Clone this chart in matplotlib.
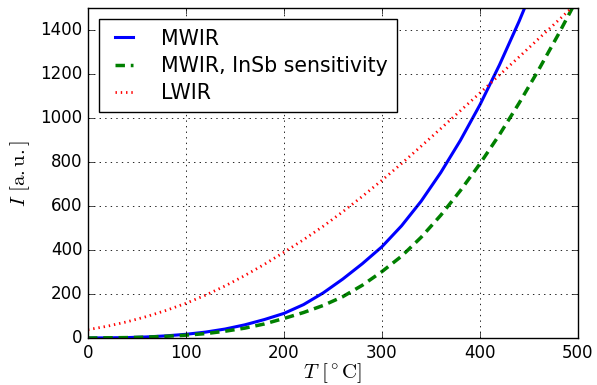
import matplotlib
matplotlib.use('Agg')
import matplotlib.pyplot as plt

# Temperature grid and intensities
temps = [0, 20, 40, 60, 80, 100, 120, 140, 160, 180, 200, 220, 240, 260,
         280, 300, 320, 340, 360, 380, 400, 420, 440, 460, 480, 500]
mwir = [0, 1, 2, 5, 10, 17, 27, 41, 60, 84, 112, 152, 205, 268,
        338, 415, 510, 622, 752, 898, 1060, 1242, 1440, 1655, 1885, 2130]
mwir_insb = [0, 1, 2, 4, 8, 13, 20, 31, 45, 64, 89, 116, 148, 188,
             240, 302, 372, 458, 558, 670, 792, 925, 1068, 1220, 1380, 1548]
lwir = [38, 54, 74, 98, 126, 158, 195, 237, 284, 335, 390, 447, 508, 574,
        644, 717, 793, 872, 952, 1033, 1114, 1196, 1278, 1361, 1444, 1528]

xticks = [0, 100, 200, 300, 400, 500]
yticks = [0, 200, 400, 600, 800, 1000, 1200, 1400]

plt.style.use('classic')
plt.rcParams['mathtext.fontset'] = 'cm'
plt.rcParams['lines.scale_dashes'] = False

fig = plt.figure(figsize=(5.97, 3.85), dpi=100, facecolor='white')
ax = fig.add_axes([0.1474, 0.122, 0.8206, 0.857])

ax.plot(temps, mwir, color='blue', linestyle='-', linewidth=2.2, label='MWIR')
ax.plot(temps, mwir_insb, color='green', linestyle='--', linewidth=2.5,
        dashes=(6.8, 4.2), label='MWIR, InSb sensitivity')
ax.plot(temps, lwir, color='red', linestyle=':', linewidth=2.0,
        dashes=(1.0, 2.8), label='LWIR')

ax.set_xlim(0, 500)
ax.set_ylim(0, 1500)
ax.set_xticks(xticks)
ax.set_yticks(yticks)
ax.tick_params(direction='in', top=True, right=True, labelsize=12, length=4)
ax.grid(True, color='black', linestyle=':', linewidth=0.6)

ax.set_xlabel(r'$T\ [^\circ\mathrm{C}]$', fontsize=15, labelpad=0)
ax.set_ylabel(r'$I\ [\mathrm{a.u.}]$', fontsize=15, labelpad=6)

leg = ax.legend(loc='upper left', fontsize=14.8, frameon=True, fancybox=False,
                handlelength=1.5, handletextpad=1.05, labelspacing=0.35,
                borderaxespad=0.55, borderpad=0.45)
leg.get_frame().set_edgecolor('black')

plt.savefig('out.png', dpi=100, facecolor='white')
